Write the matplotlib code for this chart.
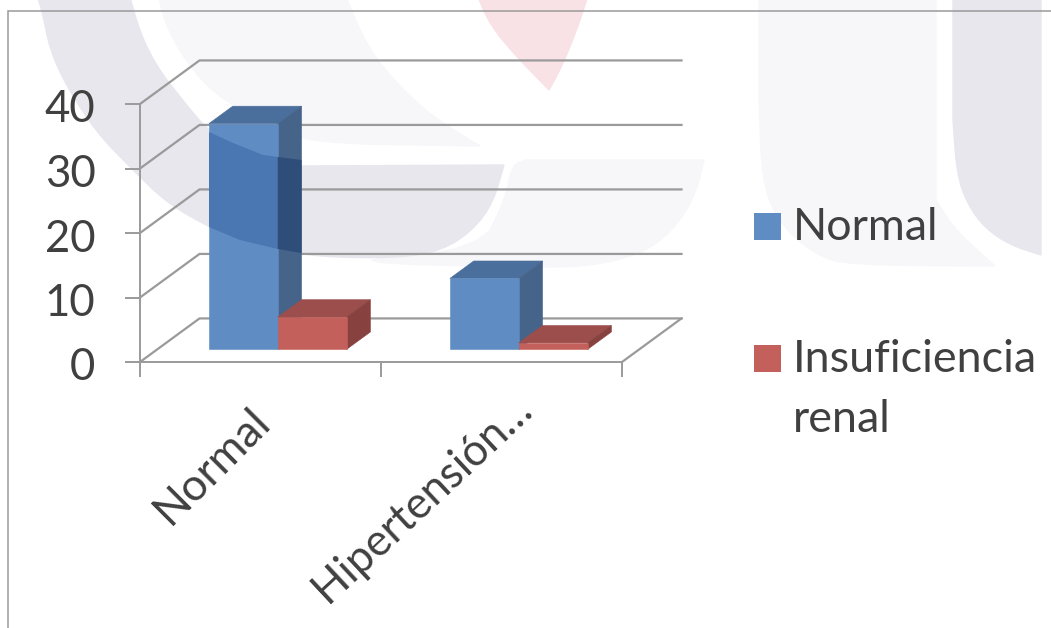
import matplotlib
matplotlib.use("Agg")
import matplotlib.pyplot as plt
import numpy as np
from matplotlib.patches import Polygon, Rectangle
from matplotlib.transforms import Affine2D

categories = ["Normal", "Hipertensión…"]
series_names = ["Normal", "Insuficiencia\nrenal"]
normal_values = [35, 11]
renal_values = [5, 1]
y_ticks = [0, 10, 20, 30, 40]

W, H = 1051, 628
TEXT = "#404040"
LINE = "#9A9A9A"
plt.rcParams["font.family"] = ["Lato", "DejaVu Sans"]

# face colours of each box: front, top, side
BLUE = ("#5F8CC2", "#4B6F9C", "#466389")
RED = ("#C4605C", "#9B4E4B", "#87423F")
BLUE_SHADED = ("#4A76B1", "#4B6F9C", "#2E4E79")

# oblique projection: a full step in depth moves this far in data units
DEPTH_X = 59.5 / 241.0
DEPTH_Y = 43.5 / 6.44
BAR_Z = (0.29, 0.69)
BAR_W = 1 / 3.5

fig = plt.figure(figsize=(W / 100, H / 100), dpi=100, facecolor="white")

# backdrop layer in pixel coordinates
bg = fig.add_axes([0, 0, 1, 1], zorder=0)
bg.set_xlim(0, W)
bg.set_ylim(H, 0)
bg.axis("off")


def rounded(points, passes=2):
    # corner cutting smooths the outlines; a vertex listed twice stays sharp
    pts = np.asarray(points, dtype=float)
    for _ in range(passes):
        nxt = np.roll(pts, -1, axis=0)
        pts = np.column_stack((0.75 * pts + 0.25 * nxt, 0.25 * pts + 0.75 * nxt)).reshape(-1, 2)
    return pts


def sharp(x, y):
    return [(x, y)] * 3


GREY = "#E7E7ED"
PALE = "#F7F7FA"
PINK = "#F9E2E6"
pale_arc = [*sharp(157, -10), (167, 30), (197, 77), (233, 107), (277, 123), (302, 143), *sharp(480, 146),
            (433, 117), (400, 87), (367, 47), *sharp(343, -10)]
pale_bowl = [*sharp(526, 160), *sharp(704, 160), (697, 190), (680, 222), (650, 250), (600, 265), (540, 268),
             (330, 262), (480, 250), (505, 200), (512, 165)]
pale_block = [*sharp(759, -10), *sharp(936, -10), *sharp(936, 200), (955, 230), *sharp(995, 266),
              (850, 265), (815, 255), (778, 222), (762, 180), *sharp(759, 100)]
grey_arc = [*sharp(35, -10), (42, 10), (50, 50), (67, 87), (97, 133), (133, 170), (167, 203), (209, 227),
            (240, 240), (277, 249), (320, 257), (400, 258), (443, 250), (473, 230), (493, 203),
            *sharp(504, 165), *sharp(302, 166), (263, 155), (233, 143), (209, 132), (180, 97), (157, 67),
            (140, 33), *sharp(128, -10)]
grey_strip = [*sharp(953, -10), *sharp(1041, -10), *sharp(1041, 255), (1010, 245), (985, 228), (968, 205),
              (957, 175), *sharp(953, 120)]
pink_wedge = [*sharp(475, -10), *sharp(590, -10), (575, 35), (560, 70), *sharp(549, 90), (515, 55), (490, 25)]
for pts, col in [(pale_arc, PALE), (pale_bowl, PALE), (pale_block, PALE),
                 (grey_arc, GREY), (grey_strip, GREY), (pink_wedge, PINK)]:
    bg.add_patch(Polygon(rounded(pts), closed=True, fc=col, ec=col, lw=1.0))

# outer frame
bg.plot([7.5, 7.5, W], [H, 10.5, 10.5], color="#9A9A9A", lw=1.1, solid_joinstyle="miter")

# chart axes: front plane of the box
left, right, y0, y40 = 140.0, 622.0, 362.0, 104.0
ax = fig.add_axes([left / W, 1 - y0 / H, (right - left) / W, (y0 - y40) / H], zorder=1)
ax.patch.set_alpha(0)
ax.set_xlim(0, len(categories))
ax.set_ylim(0, 40)
for name in ("top", "right"):
    ax.spines[name].set_visible(False)
for name in ("left", "bottom"):
    ax.spines[name].set_color(LINE)
    ax.spines[name].set_linewidth(1.4)

ax.set_yticks(y_ticks)
ax.set_yticklabels([str(v) for v in y_ticks], fontsize=31.5, color=TEXT)
ax.tick_params(axis="y", length=11, width=1.4, color=LINE, pad=21)
for lab in ax.get_yticklabels():
    lab.set_transform(lab.get_transform() + Affine2D().translate(0, -2))
ax.set_xticks([i + 0.5 for i in range(len(categories))])
ax.set_xticklabels(categories, ha="right", va="top", rotation_mode="anchor", color=TEXT)
ax.tick_params(axis="x", which="major", length=0, pad=24)
# each rotated label sits a little differently against its category slot
for lab, (dx, dy), angle, size in zip(ax.get_xticklabels(), [(-12, -5), (10, 8)], (45, 43), (32, 31.5)):
    lab.set_rotation(angle)
    lab.set_fontsize(size)
    lab.set_transform(lab.get_transform() + Affine2D().translate(dx, dy))
ax.set_xticks(list(range(len(categories) + 1)), minor=True)
ax.tick_params(axis="x", which="minor", length=11, width=1.4, color=LINE)


def proj(x, v, z):
    return (x + z * DEPTH_X, v + z * DEPTH_Y)


# walls and floor
xmax = len(categories)
for v in y_ticks:
    ax.plot(*zip(proj(0, v, 0), proj(0, v, 1), proj(xmax, v, 1)), color=LINE, lw=1.6,
            clip_on=False, zorder=2)
ax.plot(*zip(proj(xmax, 0, 0), proj(xmax, 0, 1)), color=LINE, lw=1.6, clip_on=False, zorder=2)


def draw_box(x, value, colours, z):
    z0, z1 = BAR_Z
    faces = [
        [proj(x, value, z0), proj(x + BAR_W, value, z0), proj(x + BAR_W, value, z1), proj(x, value, z1)],
        [proj(x + BAR_W, 0, z0), proj(x + BAR_W, value, z0), proj(x + BAR_W, value, z1), proj(x + BAR_W, 0, z1)],
        [proj(x, 0, z0), proj(x + BAR_W, 0, z0), proj(x + BAR_W, value, z0), proj(x, value, z0)],
    ]
    shades = (colours[1], colours[2], colours[0])
    patches = []
    for face, col in zip(faces, shades):
        p = Polygon(face, closed=True, fc=col, ec=col, lw=0.4, clip_on=False, zorder=z)
        ax.add_patch(p)
        patches.append(p)
    return patches


gap = (1 - 2 * BAR_W) / 2
tall_faces = None
for i, (a, b) in enumerate(zip(normal_values, renal_values)):
    faces = draw_box(i + gap, a, BLUE, 3 + i)
    if i == 0:
        tall_faces = faces
    draw_box(i + gap + BAR_W, b, RED, 3.5 + i)

# the grey band of the backdrop darkens the tall box where it crosses it
band = [(190, 118), (209, 132), (233, 143), (263, 155), (301, 160), (310, 160),
        (310, 256), (301, 253), (278, 249), (240, 240), (209, 227), (190, 215)]
for face, col in zip((tall_faces[2], tall_faces[1]), (BLUE_SHADED[0], BLUE_SHADED[2])):
    shade = Polygon(band, closed=True, fc=col, ec="none", transform=bg.transData, zorder=3.2)
    ax.add_patch(shade)
    shade.set_clip_path(face)

# legend drawn in the pixel layer
top = fig.add_axes([0, 0, 1, 1], zorder=2)
top.set_xlim(0, W)
top.set_ylim(H, 0)
top.axis("off")
for (y, name, col) in zip((213, 345), series_names, (BLUE[0], RED[0])):
    top.add_patch(Rectangle((754, y), 27, 27, fc=col, ec="none"))
    for k, line in enumerate(name.split("\n")):
        top.text(793, y + 27 + k * 60, line, fontsize=32.3, color=TEXT, va="baseline", ha="left")

fig.savefig("out.png", dpi=100)
